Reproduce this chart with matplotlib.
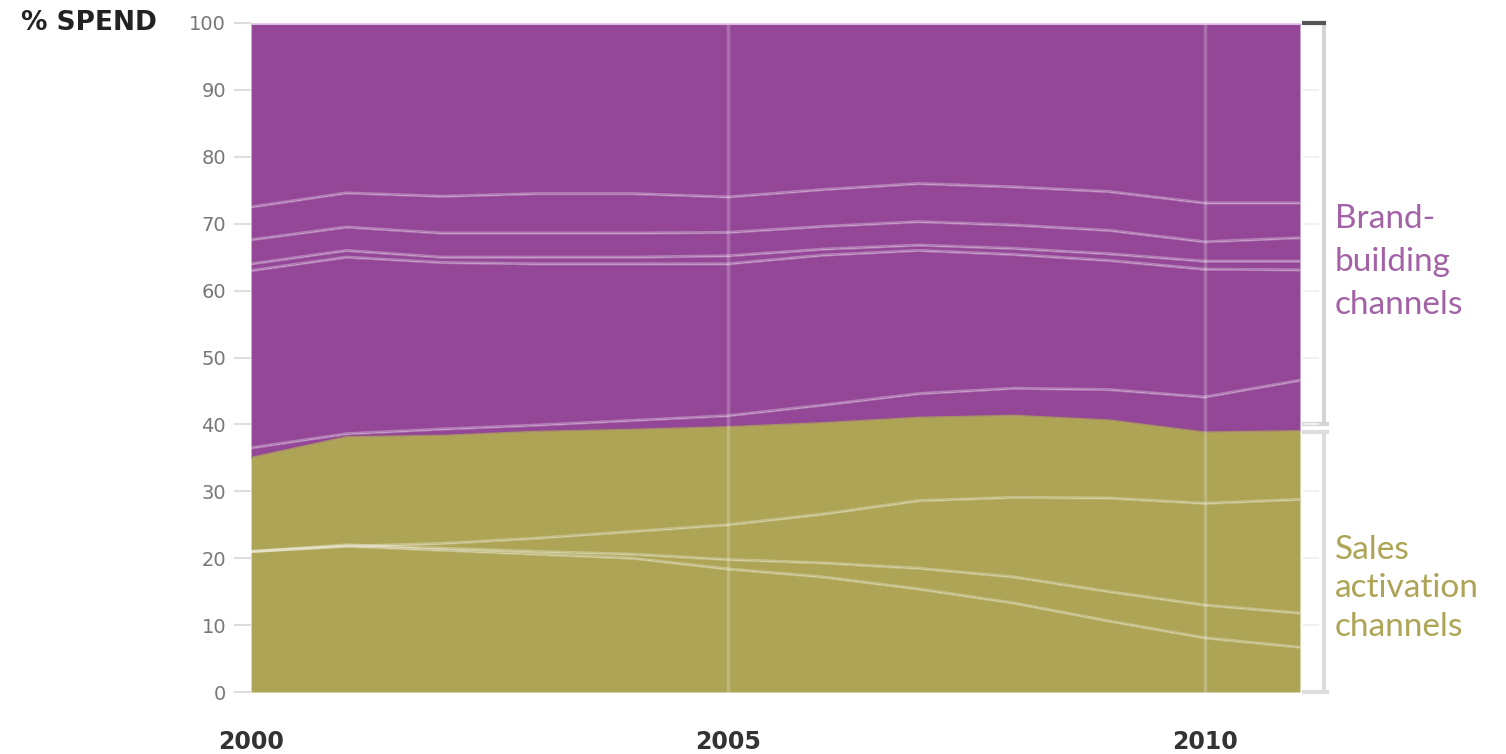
import numpy as np
import matplotlib.pyplot as plt
import matplotlib.transforms as mtransforms

years = np.arange(2000, 2012)

# Cumulative share of spend (%), bottom to top, one boundary per channel
sales_bounds = [
    [21.0, 21.8, 21.2, 20.6, 20.0, 18.4, 17.2, 15.4, 13.3, 10.6, 8.1, 6.7],
    [21.0, 22.0, 21.5, 21.0, 20.6, 19.8, 19.3, 18.5, 17.2, 15.0, 13.0, 11.8],
    [21.0, 21.8, 22.2, 23.0, 24.0, 25.0, 26.6, 28.6, 29.1, 29.0, 28.2, 28.8],
    [35.0, 38.1, 38.3, 38.9, 39.2, 39.6, 40.2, 41.0, 41.3, 40.6, 38.8, 39.0],
]
brand_bounds = [
    [36.5, 38.6, 39.3, 39.9, 40.6, 41.3, 42.9, 44.6, 45.4, 45.2, 44.1, 46.6],
    [63.0, 65.0, 64.2, 64.0, 64.0, 64.0, 65.3, 66.0, 65.4, 64.5, 63.2, 63.1],
    [64.0, 66.0, 65.0, 65.0, 65.0, 65.2, 66.2, 66.8, 66.3, 65.5, 64.4, 64.4],
    [67.6, 69.5, 68.6, 68.6, 68.6, 68.7, 69.6, 70.3, 69.8, 69.0, 67.3, 67.9],
    [72.5, 74.6, 74.1, 74.5, 74.5, 74.0, 75.1, 76.0, 75.5, 74.8, 73.1, 73.1],
    [100.0] * 12,
]
y_ticks = list(range(0, 101, 10))
x_ticks = [2000, 2005, 2010]

purple = "#934796"
olive = "#ADA455"

fig = plt.figure(figsize=(15.06, 7.54), dpi=100)
ax = fig.add_axes([0.1667, 0.0822, 0.8632 - 0.1667, 0.9695 - 0.0822])

lower = np.zeros(len(years))
for upper in sales_bounds:
    ax.fill_between(years, lower, upper, color=olive, lw=0)
    lower = np.array(upper)
for upper in brand_bounds:
    ax.fill_between(years, lower, upper, color=purple, lw=0)
    lower = np.array(upper)

# faint separators between channels
for b in sales_bounds[:-1] + brand_bounds[:-1]:
    ax.plot(years, b, color="white", alpha=0.3, lw=2.2)
ax.plot(years, sales_bounds[-1], color=olive, alpha=0.8, lw=1.5)

for x in x_ticks[1:]:
    ax.axvline(x, ymin=-0.04, ymax=1, color="white", alpha=0.22, lw=2.5,
               clip_on=False)
ax.axhline(100, color="#e6c8e8", lw=2, zorder=3)

ax.set_xlim(2000, 2011)
ax.set_ylim(0, 100)
for s in ax.spines.values():
    s.set_visible(False)

ax.set_yticks(y_ticks)
ax.tick_params(axis="y", length=12, width=1.5, color="#dddddd", pad=6,
               labelsize=14, labelcolor="#777777")
ax.set_xticks(x_ticks)
ax.set_xticklabels([str(x) for x in x_ticks], fontsize=17, fontweight="bold",
                   color="#333333")
ax.tick_params(axis="x", length=0, pad=27)

fig.text(0.014, 0.97, "% SPEND", fontsize=19, fontweight="bold",
         color="#222222", va="center", ha="left")

# brackets on the right
tr = mtransforms.blended_transform_factory(ax.transAxes, ax.transData)
bx = 1.0225
ax.plot([bx, bx], [100, 40.0], transform=tr, color="#d4d4d4", lw=3,
        clip_on=False)
ax.plot([1.004, bx], [100, 100], transform=tr, color="#555555", lw=3,
        clip_on=False)
ax.plot([1.004, bx + 0.003], [40.0, 40.0], transform=tr, color="#d4d4d4",
        lw=3, clip_on=False)
ax.plot([bx, bx], [38.9, 0], transform=tr, color="#dddddd", lw=3,
        clip_on=False)
ax.plot([1.004, bx + 0.003], [38.9, 38.9], transform=tr, color="#dddddd",
        lw=3, clip_on=False)
ax.plot([1.004, bx + 0.003], [0, 0], transform=tr, color="#dddddd", lw=3,
        clip_on=False)
for y in y_ticks[1:-1]:
    ax.plot([1.004, 1.017], [y, y], transform=tr, color="#f0f0f0", lw=1.5,
            clip_on=False)

ax.text(1.033, 64.3, "Brand-\nbuilding\nchannels", transform=tr, color=purple,
        fontsize=24, va="center", ha="left", linespacing=1.55,
        family=["Lato", "DejaVu Sans"], alpha=0.85)
ax.text(1.033, 15.5, "Sales\nactivation\nchannels", transform=tr, color=olive,
        fontsize=24, va="center", ha="left", linespacing=1.35,
        family=["Lato", "DejaVu Sans"])

fig.savefig("out.png", dpi=100)
